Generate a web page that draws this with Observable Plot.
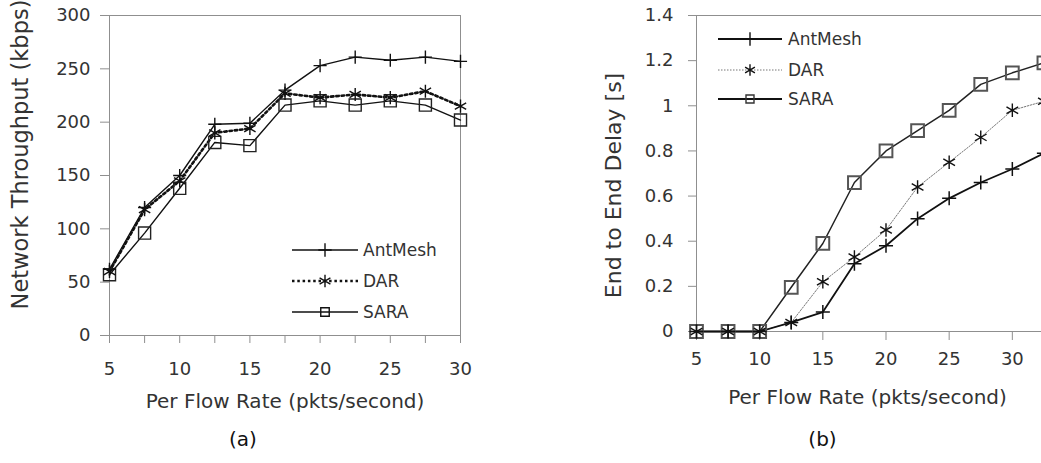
<!DOCTYPE html>
<html><head><meta charset="utf-8">
<script src="https://cdn.jsdelivr.net/npm/d3@7"></script>
<script src="https://cdn.jsdelivr.net/npm/@observablehq/plot@0.6"></script>
<style>
html,body{margin:0;padding:0;background:#fff;}
#wrap{position:relative;width:1041px;height:463px;overflow:hidden;background:#fff;}
#a,#b{position:absolute;top:0;}
#a{left:0;width:520px;} #b{left:520px;width:575px;}
#wrap svg{max-width:none !important;display:block;}
</style></head><body><div id="wrap"><div id="a"></div><div id="b"></div></div>
<script>
// ---- data ----
const seriesNames = ["AntMesh", "DAR", "SARA"];
const rates = [5, 7.5, 10, 12.5, 15, 17.5, 20, 22.5, 25, 27.5, 30];
const thrAntMesh = [62, 120, 150, 198, 199, 230, 253, 261, 258, 261, 257];
const thrDAR     = [60, 118, 145, 190, 194, 227, 223, 226, 223, 229, 215];
const thrSARA    = [57, 96, 138, 181, 178, 216, 220, 216, 220, 216, 202];
const delayRates   = [5, 7.5, 10, 12.5, 15, 17.5, 20, 22.5, 25, 27.5, 30, 32.5];
const delayAntMesh = [0, 0, 0, 0.04, 0.086, 0.30, 0.38, 0.50, 0.59, 0.66, 0.72, 0.79];
const delayDAR     = [0, 0, 0, 0.04, 0.22, 0.33, 0.45, 0.64, 0.75, 0.86, 0.98, 1.02];
const delaySARA    = [0, 0, 0, 0.196, 0.39, 0.66, 0.80, 0.89, 0.98, 1.095, 1.146, 1.19];
const thrTicks   = [0, 50, 100, 150, 200, 250, 300];
const rateTicksA = [5, 7.5, 10, 12.5, 15, 17.5, 20, 22.5, 25, 27.5, 30];
const delayTicks = [0, 0.2, 0.4, 0.6, 0.8, 1, 1.2, 1.4];
const rateTicksB = [5, 10, 15, 20, 25, 30];
const titleA = "Network Throughput (kbps)";
const titleB = "End to End Delay [s]";
const xTitle = "Per Flow Rate (pkts/second)";
const panelLabels = ["(a)", "(b)"];

const FONT = "'DejaVu Sans', sans-serif";
const GRID = "#8f8f8f";
const TXT = "#333";
const pts = (xs, ys) => xs.map((x, i) => ({x, y: ys[i]}));

// ---- panel (a) ----
const plotA = Plot.plot({
  width: 520, height: 463,
  marginTop: 15, marginLeft: 109, marginRight: 60, marginBottom: 128,
  style: {fontFamily: FONT, fontSize: "18px", color: TXT, background: "transparent"},
  x: {domain: [5, 30]},
  y: {domain: [0, 300]},
  marks: [
    Plot.frame({stroke: GRID}),
    Plot.axisY({ticks: thrTicks, tickSize: 9, tickPadding: 10, stroke: GRID, fill: TXT, label: null, fontSize: 18}),
    Plot.axisX({ticks: rateTicksA, tickSize: 8, tickPadding: 19, tickFormat: d => d % 5 === 0 ? String(d) : "", stroke: GRID, fill: TXT, label: null, fontSize: 18}),
    Plot.line(pts(rates, thrSARA), {x: "x", y: "y", stroke: "#111", strokeWidth: 1.4}),
    Plot.line(pts(rates, thrDAR), {x: "x", y: "y", stroke: "#111", strokeWidth: 2.6, strokeDasharray: "2.5,2.8"}),
    Plot.line(pts(rates, thrAntMesh), {x: "x", y: "y", stroke: "#111", strokeWidth: 1.4}),
    Plot.dot(pts(rates, thrSARA), {x: "x", y: "y", symbol: "square", r: 6.8, stroke: "#222", strokeWidth: 1.4, fill: "none"}),
    Plot.dot(pts(rates, thrDAR), {x: "x", y: "y", symbol: "asterisk", r: 6.2, stroke: "#111", strokeWidth: 1.4, fill: "none"}),
    Plot.dot(pts(rates, thrAntMesh), {x: "x", y: "y", symbol: "plus", r: 4.3, stroke: "#111", strokeWidth: 1.4, fill: "none"}),
    Plot.text([titleA], {text: d => d, frameAnchor: "left", rotate: -90, dx: -89, dy: -21, fontSize: 22.5, fill: TXT, textAnchor: "middle"}),
    Plot.text([xTitle], {text: d => d, frameAnchor: "bottom", dy: 72, fontSize: 20, fill: TXT}),
    Plot.text([panelLabels[0]], {text: d => d, frameAnchor: "bottom", dx: -42, dy: 110, fontSize: 20, fill: "#111"})
  ]
});
document.getElementById("a").appendChild(plotA);

// ---- panel (b) ----
const plotB = Plot.plot({
  width: 575, height: 463,
  marginTop: 15, marginLeft: 176, marginRight: 20, marginBottom: 132,
  style: {fontFamily: FONT, fontSize: "18px", color: TXT, background: "transparent"},
  x: {domain: [5, 35]},
  y: {domain: [0, 1.4]},
  marks: [
    Plot.frame({stroke: GRID}),
    Plot.axisY({ticks: delayTicks, tickSize: 8, tickPadding: 15, tickFormat: d => String(d), stroke: GRID, fill: TXT, label: null, fontSize: 18}),
    Plot.axisX({ticks: rateTicksB, tickSize: 9, tickPadding: 12, tickFormat: d => String(d), stroke: GRID, fill: TXT, label: null, fontSize: 18}),
    Plot.line(pts(delayRates, delaySARA), {x: "x", y: "y", stroke: "#222", strokeWidth: 1.5}),
    Plot.line(pts(delayRates, delayDAR), {x: "x", y: "y", stroke: "#777", strokeWidth: 1, strokeDasharray: "1.5,1.5"}),
    Plot.line(pts(delayRates, delayAntMesh), {x: "x", y: "y", stroke: "#111", strokeWidth: 1.8}),
    Plot.dot(pts(delayRates, delaySARA), {x: "x", y: "y", symbol: "square", r: 7.2, stroke: "#555", strokeWidth: 2, fill: "none"}),
    Plot.dot(pts(delayRates, delayDAR), {x: "x", y: "y", symbol: "asterisk", r: 6.4, stroke: "#111", strokeWidth: 1.4, fill: "none"}),
    Plot.dot(pts(delayRates, delayAntMesh), {x: "x", y: "y", symbol: "plus", r: 4.6, stroke: "#111", strokeWidth: 1.5, fill: "none"}),
    Plot.text([titleB], {text: d => d, frameAnchor: "left", rotate: -90, dx: -83, dy: 12, fontSize: 22, fill: TXT, textAnchor: "middle"}),
    Plot.text([xTitle], {text: d => d, frameAnchor: "bottom", dy: 72, dx: 347 - 365.5, fontSize: 20, fill: TXT}),
    Plot.text([panelLabels[1]], {text: d => d, frameAnchor: "bottom", dy: 114, dx: 302 - 365.5, fontSize: 20, fill: "#111"})
  ]
});
document.getElementById("b").appendChild(plotB);

// ---- legends ----
function legend(svg, x1, x2, xm, xt, rows) {
  const g = d3.select(svg).append("g");
  rows.forEach(r => {
    g.append("line").attr("x1", x1).attr("x2", x2).attr("y1", r.y).attr("y2", r.y)
      .attr("stroke", r.stroke).attr("stroke-width", r.width).attr("stroke-dasharray", r.dash || null);
    g.append("path").attr("d", d3.symbol(r.symbol, r.size)())
      .attr("transform", `translate(${xm},${r.y})`).attr("fill", "none")
      .attr("stroke", r.mstroke || "#111").attr("stroke-width", r.mwidth || 1.4);
    g.append("text").attr("x", xt).attr("y", r.y).attr("dy", "0.35em").text(r.name)
      .attr("text-anchor", "start")
      .attr("font-family", FONT).attr("font-size", 17).attr("fill", TXT);
  });
}
legend(plotA, 292, 358, 325, 363, [
  {name: seriesNames[0], y: 250, stroke: "#111", width: 1.4, symbol: d3.symbolPlus, size: 60},
  {name: seriesNames[1], y: 281, stroke: "#111", width: 2.6, dash: "2.5,2.8", symbol: d3.symbolAsterisk, size: 110},
  {name: seriesNames[2], y: 312, stroke: "#111", width: 1.4, symbol: d3.symbolSquare, size: 72}
]);
legend(plotB, 198, 262, 230, 268, [
  {name: seriesNames[0], y: 39, stroke: "#111", width: 1.8, symbol: d3.symbolPlus, size: 60},
  {name: seriesNames[1], y: 70, stroke: "#777", width: 1, dash: "1.5,1.5", symbol: d3.symbolAsterisk, size: 90},
  {name: seriesNames[2], y: 99, stroke: "#111", width: 1.8, symbol: d3.symbolSquare, size: 64, mstroke: "#333"}
]);
</script></body></html>
